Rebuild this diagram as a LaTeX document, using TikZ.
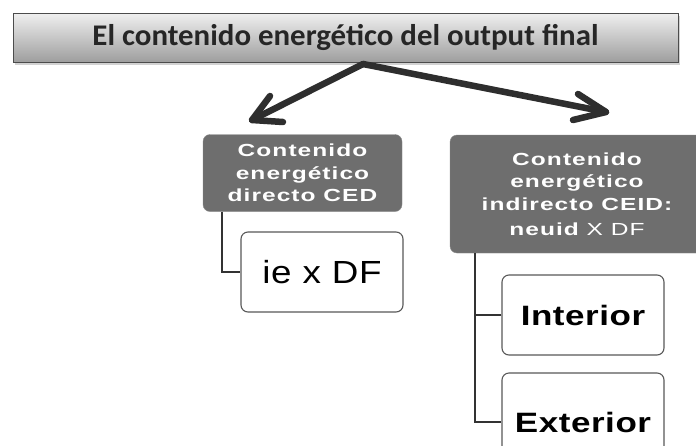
\documentclass[tikz,border=0pt]{standalone}
\usepackage{fontspec}
\setmainfont{Liberation Sans}
\newfontfamily\titlefont[FakeStretch=1.03]{Carlito}
\newfontfamily\boxfont[FakeStretch=1.4,LetterSpace=6]{Liberation Sans}
\newfontfamily\iefont[FakeStretch=1.15,LetterSpace=2]{Liberation Sans}
\newfontfamily\bigfont[FakeStretch=1.25,LetterSpace=2]{Liberation Sans}
\usetikzlibrary{shadows}
\definecolor{darkbox}{HTML}{6E6E6E}
\definecolor{linecol}{HTML}{333333}
\tikzset{
  titlebox/.style={draw=black!70, line width=1pt, top color=black!6, bottom color=black!38,
    drop shadow={opacity=0.35, shadow xshift=2pt, shadow yshift=-3pt},
    minimum width=665pt, minimum height=49pt, inner sep=0pt,
    font=\titlefont\bfseries\fontsize{30}{34}\selectfont, text=black!85},
  darkbox/.style={draw=black!45, fill=darkbox, rounded corners=7pt, text=white,
    align=center, inner sep=0pt, font=\boxfont\bfseries\fontsize{17.5}{22.5}\selectfont},
  whitebox/.style={draw=black!65, fill=white, line width=1.1pt, rounded corners=7pt,
    inner sep=0pt, minimum width=162pt},
  bigarrow/.style={draw=black!82, line width=6.5pt, line cap=round, line join=round},
  conn/.style={draw=linecol, line width=1.8pt}
}
\begin{document}
\begin{tikzpicture}[x=1pt,y=-1pt]
\useasboundingbox (0,0) rectangle (696,445);
\clip (0,0) rectangle (696,445);
\fill[white] (0,0) rectangle (696,445);

\node[titlebox] (title) at (345.5,37.5) {El contenido energético del output final};

\coordinate (o) at (363,64);
\coordinate (lt) at (252,120);
\coordinate (lb1) at (270,96);
\coordinate (lb2) at (283,122);
\coordinate (rt) at (606,112);
\coordinate (rb1) at (578,94);
\coordinate (rb2) at (573,120);
\draw[bigarrow] (o) -- (lt);
\draw[bigarrow] (lb1) -- (lt) -- (lb2);
\draw[bigarrow] (o) -- (rt);
\draw[bigarrow] (rb1) -- (rt) -- (rb2);

\node[darkbox, minimum width=199pt, minimum height=77pt] (ld) at (302.5,173)
  {Contenido\\energético\\directo CED};
\node[whitebox, minimum height=80pt, font=\iefont\fontsize{32}{36}\selectfont] (ie) at (322,272) {ie x DF};
\draw[conn] ([xshift=19pt]ld.south west) |- (ie.west);

\node[darkbox, minimum width=254pt, minimum height=118pt] (rd) at (577,194)
  {Contenido\\energético\\indirecto CEID:\\[3pt]neuid \mdseries X DF};
\node[whitebox, minimum height=80pt, font=\bigfont\bfseries\fontsize{28}{32}\selectfont] (int) at (583,315) {Interior};
\node[whitebox, minimum height=98pt, font=\bigfont\bfseries\fontsize{28}{32}\selectfont, text depth=0pt] (ext) at (583,422) {Exterior};
\coordinate (rv) at ([xshift=25pt]rd.south west);
\draw[conn] (rv) |- (ext.west);
\draw[conn] (int.west) -- (int.west -| rv);
\end{tikzpicture}
\end{document}
